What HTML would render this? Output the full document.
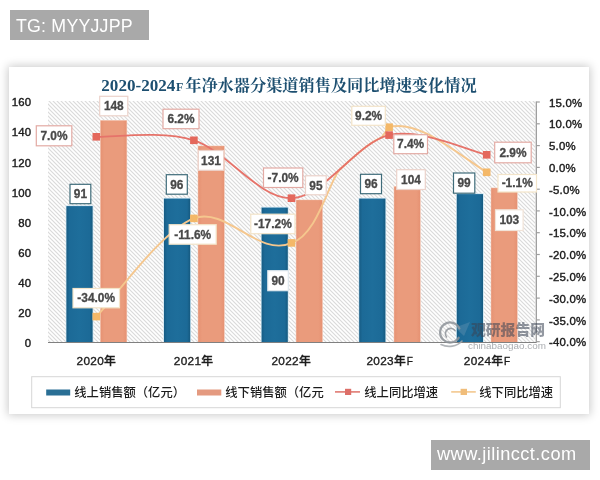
<!DOCTYPE html>
<html lang="zh-CN">
<head>
<meta charset="utf-8">
<title>2020-2024F年净水器分渠道销售及同比增速变化情况</title>
<style>
html,body{margin:0;padding:0;background:#fff;}
body{width:600px;height:480px;position:relative;overflow:hidden;font-family:"Liberation Sans","Noto Sans CJK SC",sans-serif;}
.tag{position:absolute;background:#a9a9a9;color:#fff;font-family:"Liberation Sans",sans-serif;white-space:nowrap;}
#tg{left:10px;top:10px;width:138.5px;height:30px;font-size:17.8px;letter-spacing:0.2px;line-height:30px;}
#tg span{position:absolute;left:5.5px;top:1px;}
#www{left:431px;top:440px;width:158.5px;height:29.5px;font-size:18.2px;letter-spacing:0.45px;line-height:29.5px;}
#www span{position:absolute;left:5.5px;top:-0.5px;}
#card{position:absolute;left:8.5px;top:67px;width:580.2px;height:346.8px;background:#fff;box-shadow:0 0 9px 1px rgba(0,0,0,0.22);}
svg{position:absolute;left:0;top:0;will-change:transform;}
.tag span{will-change:transform;}
.ax{font-family:"Liberation Sans",sans-serif;font-size:11.4px;fill:#1c1c1c;stroke:#1c1c1c;stroke-width:0.4px;letter-spacing:0.2px;}
.dl{font-family:"Liberation Sans",sans-serif;font-size:11.9px;font-weight:bold;fill:#484848;stroke:#484848;stroke-width:0.3px;text-anchor:middle;}
.cat{font-family:"Liberation Sans","Noto Sans CJK SC",sans-serif;font-size:11.8px;font-weight:500;fill:#1c1c1c;letter-spacing:0.3px;stroke:#1c1c1c;stroke-width:0.35px;}
.cat .n{stroke:#1c1c1c;stroke-width:0.2px;}
.lg{font-family:"Liberation Sans","Noto Sans CJK SC",sans-serif;font-size:12.3px;font-weight:500;fill:#1c1c1c;}
.title{font-family:"Liberation Serif","Noto Serif CJK SC",serif;font-weight:bold;font-size:16.2px;fill:#1d4f70;}
</style>
</head>
<body>
<div id="card"></div>
<div class="tag" id="tg"><span>TG: MYYJJPP</span></div>
<div class="tag" id="www"><span>www.jilincct.com</span></div>

<svg width="600" height="480" viewBox="0 0 600 480">
<defs>
<pattern id="hatch" patternUnits="userSpaceOnUse" width="4" height="4">
<rect width="4" height="4" fill="#fff"/>
<path d="M-1,-1 L5,5 M-1,3 L1,5 M3,-1 L5,1" stroke="#dadada" stroke-width="1.15"/>
</pattern>
<filter id="soft" x="0" y="0" width="1" height="1"><feGaussianBlur stdDeviation="0.4"/></filter>
<linearGradient id="gb" x1="0" x2="1" y1="0" y2="0"><stop offset="0" stop-color="#175c84"/><stop offset="0.12" stop-color="#1c6a97"/><stop offset="0.5" stop-color="#1e6e9b"/><stop offset="0.88" stop-color="#1c6a97"/><stop offset="1" stop-color="#165a80"/></linearGradient>
<linearGradient id="go" x1="0" x2="1" y1="0" y2="0"><stop offset="0" stop-color="#e69273"/><stop offset="0.15" stop-color="#ea9b7c"/><stop offset="0.85" stop-color="#ea9b7c"/><stop offset="1" stop-color="#e69273"/></linearGradient>
</defs>
<rect x="48.0" y="101.0" width="487.0" height="241.5" fill="url(#hatch)" filter="url(#soft)"/>
<text class="title" x="101.3" y="90.5"><tspan font-size="17.1px">2020-2024</tspan><tspan font-size="12px" dx="0.5">F</tspan><tspan dx="2">年净水器分渠道销售及同比增速变化情况</tspan></text>
<text class="ax" x="31.3" y="347.4" text-anchor="end">0</text>
<text class="ax" x="31.3" y="317.3" text-anchor="end">20</text>
<text class="ax" x="31.3" y="287.1" text-anchor="end">40</text>
<text class="ax" x="31.3" y="257.0" text-anchor="end">60</text>
<text class="ax" x="31.3" y="226.8" text-anchor="end">80</text>
<text class="ax" x="31.3" y="196.7" text-anchor="end">100</text>
<text class="ax" x="31.3" y="166.6" text-anchor="end">120</text>
<text class="ax" x="31.3" y="136.4" text-anchor="end">140</text>
<text class="ax" x="31.3" y="106.3" text-anchor="end">160</text>
<line x1="536.3" y1="101.5" x2="536.3" y2="342.5" stroke="#9a9a9a" stroke-width="1.3"/>
<line x1="536.3" y1="102.0" x2="539.8" y2="102.0" stroke="#9e9e9e" stroke-width="1.2"/>
<text class="ax" x="549" y="106.6">15.0%</text>
<line x1="536.3" y1="123.8" x2="539.8" y2="123.8" stroke="#9e9e9e" stroke-width="1.2"/>
<text class="ax" x="549" y="128.4">10.0%</text>
<line x1="536.3" y1="145.6" x2="539.8" y2="145.6" stroke="#9e9e9e" stroke-width="1.2"/>
<text class="ax" x="549" y="150.2">5.0%</text>
<line x1="536.3" y1="167.4" x2="539.8" y2="167.4" stroke="#9e9e9e" stroke-width="1.2"/>
<text class="ax" x="549" y="172.0">0.0%</text>
<line x1="536.3" y1="189.2" x2="539.8" y2="189.2" stroke="#9e9e9e" stroke-width="1.2"/>
<text class="ax" x="549" y="193.8">-5.0%</text>
<line x1="536.3" y1="210.9" x2="539.8" y2="210.9" stroke="#9e9e9e" stroke-width="1.2"/>
<text class="ax" x="549" y="215.5">-10.0%</text>
<line x1="536.3" y1="232.7" x2="539.8" y2="232.7" stroke="#9e9e9e" stroke-width="1.2"/>
<text class="ax" x="549" y="237.3">-15.0%</text>
<line x1="536.3" y1="254.5" x2="539.8" y2="254.5" stroke="#9e9e9e" stroke-width="1.2"/>
<text class="ax" x="549" y="259.1">-20.0%</text>
<line x1="536.3" y1="276.3" x2="539.8" y2="276.3" stroke="#9e9e9e" stroke-width="1.2"/>
<text class="ax" x="549" y="280.9">-25.0%</text>
<line x1="536.3" y1="298.1" x2="539.8" y2="298.1" stroke="#9e9e9e" stroke-width="1.2"/>
<text class="ax" x="549" y="302.7">-30.0%</text>
<line x1="536.3" y1="319.9" x2="539.8" y2="319.9" stroke="#9e9e9e" stroke-width="1.2"/>
<text class="ax" x="549" y="324.5">-35.0%</text>
<line x1="536.3" y1="341.7" x2="539.8" y2="341.7" stroke="#9e9e9e" stroke-width="1.2"/>
<text class="ax" x="549" y="346.3">-40.0%</text>
<rect x="65.7" y="205.3" width="27.7" height="137.2" fill="#cfe6f2"/>
<rect x="66.4" y="206.1" width="26.2" height="136.4" fill="url(#gb)"/>
<rect x="100.0" y="120.0" width="27.2" height="222.5" fill="#f6d9cc"/>
<rect x="100.6" y="120.6" width="26" height="221.9" fill="url(#go)"/>
<rect x="163.3" y="197.8" width="27.7" height="144.7" fill="#cfe6f2"/>
<rect x="164.0" y="198.6" width="26.2" height="143.9" fill="url(#gb)"/>
<rect x="197.6" y="145.5" width="27.2" height="197.0" fill="#f6d9cc"/>
<rect x="198.2" y="146.1" width="26" height="196.4" fill="url(#go)"/>
<rect x="260.9" y="206.8" width="27.7" height="135.7" fill="#cfe6f2"/>
<rect x="261.6" y="207.6" width="26.2" height="134.9" fill="url(#gb)"/>
<rect x="295.7" y="199.5" width="27.2" height="143.0" fill="#f6d9cc"/>
<rect x="296.3" y="200.1" width="26" height="142.4" fill="url(#go)"/>
<rect x="358.5" y="197.8" width="27.7" height="144.7" fill="#cfe6f2"/>
<rect x="359.2" y="198.6" width="26.2" height="143.9" fill="url(#gb)"/>
<rect x="393.6" y="186.0" width="27.2" height="156.5" fill="#f6d9cc"/>
<rect x="394.2" y="186.6" width="26" height="155.9" fill="url(#go)"/>
<rect x="456.1" y="193.3" width="27.7" height="149.2" fill="#cfe6f2"/>
<rect x="456.8" y="194.1" width="26.2" height="148.4" fill="url(#gb)"/>
<rect x="490.6" y="187.5" width="27.2" height="155.0" fill="#f6d9cc"/>
<rect x="491.2" y="188.1" width="26" height="154.4" fill="url(#go)"/>
<line x1="48.0" y1="342.5" x2="536.5" y2="342.5" stroke="#808080" stroke-width="1.2"/>
<path d="M96.3,316.6 C112.6,300.2 161.4,230.6 193.9,218.4 C226.4,206.1 259.0,258.1 291.5,242.9 C318,235 329.3,179.0 340.3,169.0 C354.0,156.6 367.6,143.6 381.3,137.7 L389.1,127.2 C418,119 455,152 486.7,172.3" fill="none" stroke="#f5c78e" stroke-width="1.9" stroke-linecap="round"/>
<path d="M96.3,136.8 C112.6,137.4 161.4,130.1 193.9,140.3 C226.4,150.5 259.0,199.1 291.5,198.2 C324.0,197.3 356.6,142.3 389.1,135.1 C421.6,127.8 470.4,151.5 486.7,154.8" fill="none" stroke="#e6736a" stroke-width="1.8" stroke-linecap="round"/>
<rect x="92.5" y="312.8" width="7.6" height="7.6" fill="#f4b868"/>
<rect x="190.1" y="214.6" width="7.6" height="7.6" fill="#f4b868"/>
<rect x="287.7" y="239.1" width="7.6" height="7.6" fill="#f4b868"/>
<rect x="385.3" y="123.4" width="7.6" height="7.6" fill="#f4b868"/>
<rect x="482.9" y="168.5" width="7.6" height="7.6" fill="#f4b868"/>
<rect x="92.5" y="133.0" width="7.6" height="7.6" fill="#e4685c"/>
<rect x="190.1" y="136.5" width="7.6" height="7.6" fill="#e4685c"/>
<rect x="287.7" y="194.4" width="7.6" height="7.6" fill="#e4685c"/>
<rect x="385.3" y="131.3" width="7.6" height="7.6" fill="#e4685c"/>
<rect x="482.9" y="151.0" width="7.6" height="7.6" fill="#e4685c"/>
<rect x="99.7" y="96.3" width="28.1" height="19.5" fill="#fff" stroke="#ecd2ca" stroke-width="1.2"/>
<text class="dl" x="113.8" y="110.2">148</text>
<rect x="36.3" y="125.8" width="35.5" height="20.0" fill="#fff" stroke="#e3aaa4" stroke-width="1.2"/>
<text class="dl" x="54.0" y="140.0">7.0%</text>
<rect x="70.0" y="184.3" width="20.8" height="19.4" fill="#fff" stroke="#3f6c7a" stroke-width="1.2"/>
<text class="dl" x="80.4" y="198.2">91</text>
<rect x="73.0" y="288.5" width="46.5" height="19.3" fill="#fff" stroke="#f3e4c9" stroke-width="1.2"/>
<text class="dl" x="96.2" y="302.3">-34.0%</text>
<rect x="163.0" y="109.2" width="36.0" height="19.5" fill="#fff" stroke="#e3aaa4" stroke-width="1.2"/>
<text class="dl" x="181.0" y="123.1">6.2%</text>
<rect x="198.3" y="150.5" width="25.4" height="19.8" fill="#fff" stroke="#ecd2ca" stroke-width="1.2"/>
<text class="dl" x="211.0" y="164.6">131</text>
<rect x="166.3" y="174.7" width="21.0" height="19.5" fill="#fff" stroke="#3f6c7a" stroke-width="1.2"/>
<text class="dl" x="176.8" y="188.6">96</text>
<rect x="169.2" y="224.7" width="47.0" height="19.5" fill="#fff" stroke="#f3e4c9" stroke-width="1.2"/>
<text class="dl" x="192.7" y="238.6">-11.6%</text>
<rect x="263.5" y="168.0" width="39.3" height="19.5" fill="#fff" stroke="#e3aaa4" stroke-width="1.2"/>
<text class="dl" x="283.1" y="181.9">-7.0%</text>
<rect x="305.5" y="175.8" width="20.7" height="19.0" fill="#fff" stroke="#ecd2ca" stroke-width="1.2"/>
<text class="dl" x="315.9" y="189.5">95</text>
<rect x="250.8" y="214.2" width="44.2" height="19.5" fill="#fff" stroke="#f3e4c9" stroke-width="1.2"/>
<text class="dl" x="272.9" y="228.1">-17.2%</text>
<rect x="267.8" y="270.7" width="20.5" height="20.0" fill="#fff" stroke="#dfe8ee" stroke-width="1.2"/>
<text class="dl" x="278.1" y="284.9">90</text>
<rect x="351.8" y="106.3" width="33.5" height="19.0" fill="#fff" stroke="#f3e4c9" stroke-width="1.2"/>
<text class="dl" x="368.6" y="120.0">9.2%</text>
<rect x="393.8" y="134.7" width="33.7" height="19.0" fill="#fff" stroke="#e3aaa4" stroke-width="1.2"/>
<text class="dl" x="410.6" y="148.4">7.4%</text>
<rect x="360.5" y="174.3" width="21.0" height="19.4" fill="#fff" stroke="#3f6c7a" stroke-width="1.2"/>
<text class="dl" x="371.0" y="188.2">96</text>
<rect x="396.7" y="169.7" width="28.6" height="19.8" fill="#fff" stroke="#ecd2ca" stroke-width="1.2"/>
<text class="dl" x="411.0" y="183.8">104</text>
<rect x="494.7" y="142.2" width="36.5" height="20.6" fill="#fff" stroke="#e3aaa4" stroke-width="1.2"/>
<text class="dl" x="513.0" y="156.7">2.9%</text>
<rect x="453.5" y="173.0" width="21.3" height="20.2" fill="#fff" stroke="#3f6c7a" stroke-width="1.2"/>
<text class="dl" x="464.1" y="187.3">99</text>
<rect x="498.0" y="174.5" width="38.5" height="17.5" fill="#fff" stroke="#f3e4c9" stroke-width="1.2"/>
<text class="dl" x="517.2" y="187.4">-1.1%</text>
<rect x="495.5" y="209.8" width="27.6" height="20.7" fill="#fff" stroke="#f1e3d8" stroke-width="1.2"/>
<text class="dl" x="509.3" y="224.3">103</text>
<text class="cat" x="76.6" y="364.8">2020年</text>
<text class="cat" x="173.8" y="364.8">2021年</text>
<text class="cat" x="271.5" y="364.8">2022年</text>
<text class="cat" x="366.5" y="364.8">2023年<tspan dx="0.6" font-size="10px">F</tspan></text>
<text class="cat" x="463.8" y="364.8">2024年<tspan dx="0.6" font-size="10px">F</tspan></text>
<rect x="31.7" y="376.7" width="528.6" height="31" fill="#fff" stroke="#d6d6d6" stroke-width="1"/>
<rect x="46.2" y="389.5" width="24" height="6" fill="#2a6f95"/>
<text class="lg" x="74.3" y="396.6">线上销售额（亿元）</text>
<rect x="197" y="389.5" width="24.3" height="6" fill="#e49a80"/>
<text class="lg" x="225.3" y="396.6">线下销售额（亿元</text>
<line x1="335" y1="391.9" x2="360" y2="391.9" stroke="#e07a72" stroke-width="1.6"/>
<rect x="345" y="388.8" width="6.2" height="6.2" fill="#dd6f68"/>
<text class="lg" x="364.3" y="396.6">线上同比增速</text>
<line x1="451.2" y1="391.9" x2="475.8" y2="391.9" stroke="#f3c88f" stroke-width="1.6"/>
<rect x="460.6" y="388.8" width="6.4" height="6.2" fill="#f0bd7a"/>
<text class="lg" x="479.3" y="396.6">线下同比增速</text>
<g opacity="0.85">
<path d="M459.3,328.5 A10,10 0 1 0 458.6,337.8" fill="none" stroke="#8e9399" stroke-width="2.3" stroke-linecap="round"/>
<path d="M446.5,337 A5,5 0 1 1 455,330.5" fill="none" stroke="#8e9399" stroke-width="1.6" stroke-linecap="round"/>
<path d="M441,344.5 C448,348 457,346.5 462,341" fill="none" stroke="#a4a8ad" stroke-width="1.6" stroke-linecap="round"/>
<path d="M455,327.5 L470,322 L464,336 Z" fill="#b9c4cf" opacity="0.22"/>
</g>
<text x="471" y="335.3" font-family="'Liberation Sans','Noto Sans CJK SC',sans-serif" font-weight="900" font-size="14.8px" fill="#3a4453" fill-opacity="0.55">观研报告网</text>
<text x="468" y="349.2" font-family="'Liberation Sans',sans-serif" font-size="9.9px" fill="#6f757c" fill-opacity="0.6">chinabaogao.com</text>
</svg>
</body>
</html>
